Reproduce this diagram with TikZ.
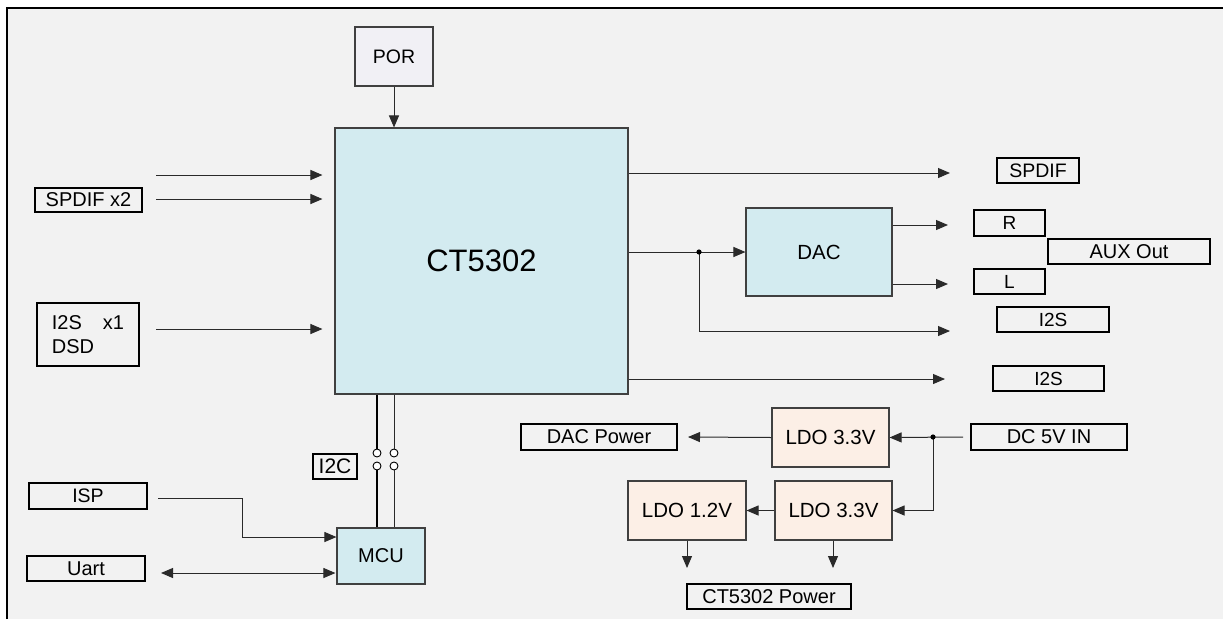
\documentclass[tikz,border=0pt]{standalone}
\usepackage{fontspec}
\setmainfont{Liberation Sans}
\usetikzlibrary{arrows.meta}
\definecolor{bg}{HTML}{F2F2F2}
\definecolor{chipblue}{HTML}{D3EBF0}
\definecolor{peach}{HTML}{FCEFE6}
\definecolor{porfill}{HTML}{F1F0F5}
\definecolor{boxline}{HTML}{404040}
\definecolor{linec}{HTML}{2A2A2A}
\begin{document}
\begin{tikzpicture}[x=1pt,y=-1pt,
  >={Triangle[length=12pt,width=10pt]},
  arr/.style={draw=linec, line width=1pt, ->},
  wire/.style={draw=linec, line width=1pt},
  blk/.style={draw=boxline, line width=1.1pt, inner sep=0pt, font=\fontsize{20}{24}\selectfont},
  lbl/.style={draw=black, line width=1.3pt, fill=bg, inner sep=0pt, font=\fontsize{20}{24}\selectfont},
  sz/.style 2 args={minimum width=#1pt, minimum height=#2pt},
  pin/.style={circle, draw=black, line width=0.9pt, fill=white, minimum size=8pt, inner sep=0pt}
]
\useasboundingbox (0,0) rectangle (1223,619);
\fill[white] (0,0) rectangle (1223,619);
\fill[bg] (7,8) rectangle (1223,619);
\draw[line width=1.3pt] (7,619) -- (7,8) -- (1223,8);

% main blocks
\node[blk, fill=porfill, sz={78}{59}, font=\fontsize{19.5}{24}\selectfont] (por) at (394,56.5) {POR};
\node[blk, fill=chipblue, sz={293}{266}, font=\fontsize{31}{36}\selectfont] (ct) at (481.5,261) {CT5302};
\node[blk, fill=chipblue, sz={146}{88}, font=\fontsize{20.5}{24}\selectfont] (dac) at (819,252) {DAC};
\node[blk, fill=chipblue, sz={88}{56}] (mcu) at (381,556) {MCU};
\node[blk, fill=peach, sz={117}{59}, font=\fontsize{20.5}{24}\selectfont] (ldoa) at (830.5,437.5) {LDO 3.3V};
\node[blk, fill=peach, sz={118}{59}, font=\fontsize{20.5}{24}\selectfont] (ldoc) at (687,510.5) {LDO 1.2V};
\node[blk, fill=peach, sz={117}{59}, font=\fontsize{20.5}{24}\selectfont] (ldob) at (833.5,510.5) {LDO 3.3V};

% label boxes
\node[lbl, sz={107}{24}] (spdifin) at (88.5,200) {SPDIF x2};
\node[lbl, sz={102}{63}, align=left] (i2sin) at (88,334.5) {I2S\hspace{21pt}x1\\DSD};
\node[lbl, sz={118}{26}, font=\fontsize{19.5}{24}\selectfont] (isp) at (88,496) {ISP};
\node[lbl, sz={118}{25}] (uart) at (86,568.5) {Uart};
\node[lbl, sz={44}{25}, font=\fontsize{21}{24}\selectfont] (i2c) at (335,466.5) {I2C};
\node[lbl, sz={82}{25}, font=\fontsize{19.5}{24}\selectfont] (spdifout) at (1038,170.5) {SPDIF};
\node[lbl, sz={71}{26}, font=\fontsize{19}{24}\selectfont] (rout) at (1009.5,223) {R};
\node[lbl, sz={162}{25}] (aux) at (1129,251.5) {AUX Out};
\node[lbl, sz={71}{25}, font=\fontsize{19}{24}\selectfont] (lout) at (1009.5,281.5) {L};
\node[lbl, sz={112}{25}, font=\fontsize{19}{24}\selectfont] (i2sa) at (1053,319.5) {I2S};
\node[lbl, sz={111}{25}, font=\fontsize{19}{24}\selectfont] (i2sb) at (1048.5,378.5) {I2S};
\node[lbl, sz={156}{26}] (dacpow) at (599,437) {DAC Power};
\node[lbl, sz={164}{25}] (ctpow) at (769,596.5) {CT5302 Power};
\node[lbl, sz={156}{26}] (dcin) at (1049,437) {DC 5V IN};

% free ends
\coordinate (spa) at (156,175);
\coordinate (spb) at (156,199);
\coordinate (i2ss) at (156,329);
\coordinate (isps) at (158,498);
\coordinate (ispk) at (242,498);
\coordinate (uarts) at (161,573);
\coordinate (spo) at (950,173);
\coordinate (rt) at (948,225);
\coordinate (lt) at (948,284);
\coordinate (i2sat) at (950,331);
\coordinate (i2sbt) at (945,379);
\coordinate (j1) at (699,252);
\coordinate (dcs) at (963,437);
\coordinate (j2) at (933,437);
\coordinate (dpt) at (688,437);
\coordinate (c12t) at (687,568);
\coordinate (c33t) at (833,568);

% I2C pins
\node[pin] (p1a) at (377,453) {};
\node[pin] (p1b) at (377,466) {};
\node[pin] (p2a) at (394,453) {};
\node[pin] (p2b) at (394,466) {};

% connectors
\draw[arr] (por.south) -- (por.south |- ct.north);
\draw[arr, shorten >=12pt] (spa) -- (ct.west |- spa);
\draw[arr, shorten >=12pt] (spb) -- (ct.west |- spb);
\draw[arr, shorten >=12pt] (i2ss) -- (ct.west |- i2ss);
\draw[arr] (isps) -- (ispk) |- ([yshift=19pt]mcu.west);
\draw[wire, <->, shorten >=1pt] (uarts) -- (mcu.west |- uarts);

\draw[draw=black, line width=2pt] (p1a |- ct.south) -- (p1a.north);
\draw[draw=black, line width=2pt] (p1b.south) -- (p1b |- mcu.north);
\draw[wire, line width=0.8pt] (p2a |- ct.south) -- (p2a.north);
\draw[wire, line width=0.8pt] (p2b.south) -- (p2b |- mcu.north);

\draw[arr] (ct.east |- spo) -- (spo);
\draw[arr] (ct.east |- dac.west) -- (dac.west);
\draw[arr] (j1) |- (i2sat);
\fill[black] (j1) circle (2.6);
\draw[arr] (ct.east |- i2sbt) -- (i2sbt);
\draw[arr] (dac.east |- rt) -- (rt);
\draw[arr] (dac.east |- lt) -- (lt);

\draw[arr] (dcs) -- (ldoa.east);
\draw[arr] (j2) |- (ldob.east);
\fill[black] (j2) circle (2.6);
\draw[arr] (ldoa.west) -- (dpt);
\draw[arr] (ldob.west) -- (ldoc.east);
\draw[arr] (ldoc.south) -- (c12t);
\draw[arr] (ldob.south -| c33t) -- (c33t);
\end{tikzpicture}
\end{document}
